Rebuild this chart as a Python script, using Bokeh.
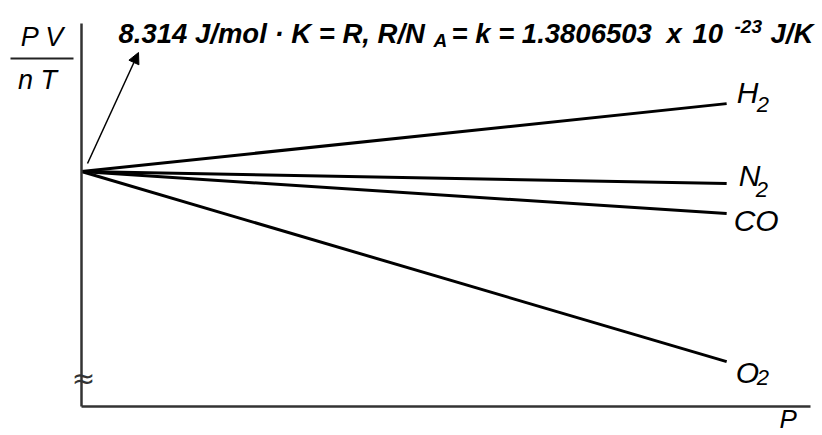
from bokeh.plotting import figure
from bokeh.models import Range1d, Label, Arrow, NormalHead, FixedTicker, LinearAxis
from bokeh.embed import file_html
from bokeh.resources import INLINE
from bokeh.core.properties import value

# PV/nT against pressure for real gases, all starting from the ideal value R
pressure = [0.0, 0.885]
gas_names = ["H", "N", "CO", "O"]
gas_subscripts = ["2", "2", "", "2"]
pv_nt_h2 = [1.0, 1.289]
pv_nt_n2 = [1.0, 0.949]
pv_nt_co = [1.0, 0.821]
pv_nt_o2 = [1.0, 0.191]

W, H = 822, 435
# where the axes sit on the canvas
AX_L, AX_R, AX_T, AX_B = 81, 810, 23, 406
X_MAX, Y_MAX = 1.0, 1.63

FONT_NAME = "Liberation Sans"
FONT = value(FONT_NAME)


def dx(px):
    """canvas pixel column -> P value"""
    return (px - AX_L) / (AX_R - AX_L) * X_MAX


def dy(py):
    """canvas pixel row -> PV/nT value"""
    return (AX_B - py) / (AX_B - AX_T) * Y_MAX


p = figure(width=W, height=H, x_range=Range1d(dx(0), dx(W)), y_range=Range1d(dy(H), dy(0)),
           x_axis_type=None, y_axis_type=None, min_border=0,
           output_backend="svg", toolbar_location=None)
p.grid.visible = False
p.outline_line_color = None
p.background_fill_color = "white"
p.border_fill_color = "white"

for place, bnd in (("left", (0, Y_MAX)), ("below", (0, X_MAX))):
    ax = LinearAxis(fixed_location=0, bounds=bnd, ticker=FixedTicker(ticks=[]),
                    axis_line_color="#333333", axis_line_width=2.5,
                    major_tick_line_color=None, minor_tick_line_color=None,
                    major_tick_in=0, major_tick_out=0, minor_tick_in=0, minor_tick_out=0,
                    major_label_text_font_size="0px", major_label_standoff=0,
                    axis_label_standoff=0)
    p.add_layout(ax, place)

series = [pv_nt_h2, pv_nt_n2, pv_nt_co, pv_nt_o2]
# per-label offsets (pixels) from the end of each line: main text, subscript
label_offsets = [(10, -11, 30, 1), (12, -8, 29, 6), (7, 7, 0, 0), (9, 11, 30, 16)]

for vals, name, sub, off in zip(series, gas_names, gas_subscripts, label_offsets):
    p.line(pressure, vals, line_color="black", line_width=3)
    p.text(x=[pressure[-1]], y=[vals[-1]], text=[name], x_offset=off[0], y_offset=off[1],
           text_font=FONT, text_font_style="italic", text_font_size="30px",
           text_baseline="middle", text_align="left", text_color="black")
    if sub:
        p.text(x=[pressure[-1]], y=[vals[-1]], text=[sub], x_offset=off[2], y_offset=off[3],
               text_font=FONT, text_font_style="italic", text_font_size="22px",
               text_baseline="middle", text_align="left", text_color="black")

# arrow pointing from the common intercept to the value of R
p.add_layout(Arrow(x_start=dx(87), y_start=dy(163), x_end=dx(138), y_end=dy(52),
                   line_color="black", line_width=1.5,
                   end=NormalHead(size=11, fill_color="black", line_color="black", line_width=1)))


def label(x, y, text, size, style="italic", align="left", font=FONT_NAME, color="black"):
    p.add_layout(Label(x=dx(x), y=dy(y), text=text, text_font=font, text_font_style=style,
                       text_font_size=size, text_align=align, text_baseline="middle",
                       text_color=color))


# constants line
label(118, 33, "8.314 J/mol \u00b7 K = R, R/N", "27.5px", "bold italic")
label(433, 40, "A", "19px", "bold italic")
label(451, 33, "= k = 1.3806503", "27.5px", "bold italic")
label(666, 33, "x", "27.5px", "bold italic")
label(692, 33, "10", "27.5px", "bold italic")
label(734, 26, "-23", "19px", "bold italic")
label(770, 33, "J/K", "27.5px", "bold italic")

# y axis title as a fraction
label(42, 36, "P V", "27px", align="center")
p.add_layout(Arrow(x_start=dx(10), y_start=dy(58), x_end=dx(73), y_end=dy(58),
                   start=None, end=None, line_color="#222222", line_width=2))
label(37, 79, "n T", "27px", align="center")

# x axis title and axis break mark
label(779, 418, "P", "26px")
label(AX_L + 2, 378, "\u2248", "28px", style="normal", align="center",
      font="DejaVu Sans", color="#333333")

open("out.html", "w").write(file_html(p, INLINE))
